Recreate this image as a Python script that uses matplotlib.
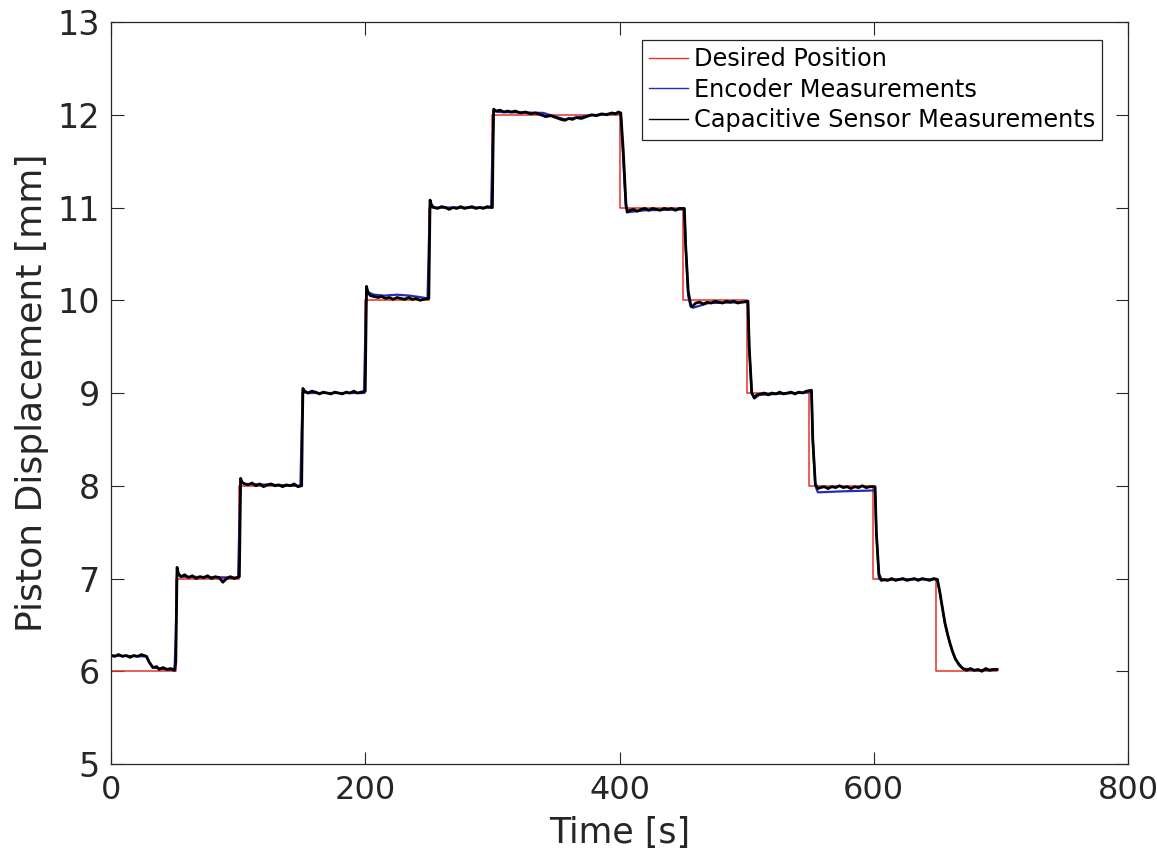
import matplotlib
matplotlib.use("Agg")
import matplotlib.pyplot as plt

# Step reference trajectory (staircase up to 12 mm and back down)
desired_time = [0, 51, 51, 101, 101, 150, 150, 200, 200, 250, 250, 300, 300,
                400, 400, 450, 450, 500, 500, 549, 549, 599, 599, 649, 649, 697]
desired_pos = [6, 6, 7, 7, 8, 8, 9, 9, 10, 10, 11, 11, 12,
               12, 11, 11, 10, 10, 9, 9, 8, 8, 7, 7, 6, 6]

# Capacitive sensor reading
cap_time = [0, 3, 6, 9, 12, 15, 18, 21, 24, 28, 30, 33, 36, 38, 41, 44, 47, 50, 51, 51.5, 52, 53, 55, 58, 61, 64, 67, 70, 73, 76, 79, 82, 85, 88, 91, 94, 97, 101,
            101.5, 102, 103, 105, 108, 111, 114, 117, 120, 123, 126, 129, 132, 135, 138, 141, 144, 147, 150,
            150.5, 151, 152, 155, 158, 161, 164, 167, 170, 173, 176, 179, 182, 185, 188, 191, 194, 197, 200,
            200.5, 201, 202, 204, 207, 210, 213, 216, 219, 222, 225, 228, 231, 234, 237, 240, 243, 246, 250,
            250.5, 251, 252, 254, 257, 260, 263, 266, 269, 272, 275, 278, 281, 284, 287, 290, 293, 296, 300,
            300.5, 301, 303, 306, 309, 312, 315, 318, 322, 326, 330, 334, 338, 342, 346, 350, 354, 357, 360, 363, 366, 370, 374, 378, 382, 386, 390, 394, 397, 399,
            401, 403, 405, 406, 408, 411, 414, 417, 420, 423, 426, 429, 432, 435, 438, 441, 444, 447, 451,
            452, 454, 456, 457, 460, 463, 466, 469, 472, 475, 478, 481, 484, 487, 490, 493, 496, 501,
            502, 504, 506, 508, 511, 514, 517, 520, 523, 526, 529, 532, 535, 538, 541, 544, 547, 551,
            552, 554, 556, 558, 561, 564, 567, 570, 573, 576, 579, 582, 585, 588, 591, 594, 597, 601,
            602, 604, 606, 608, 611, 614, 617, 620, 623, 626, 629, 632, 635, 638, 641, 644, 647, 650,
            652, 654, 656, 658, 660, 662, 664, 667, 670, 673, 676, 679, 682, 685, 688, 691, 694, 697]
cap_pos = [6.17, 6.16, 6.18, 6.16, 6.17, 6.15, 6.17, 6.16, 6.18, 6.16, 6.10, 6.04, 6.05, 6.02, 6.04, 6.02, 6.03, 6.01, 6.10, 6.60, 7.12, 7.05, 7.02, 7.04, 7.01, 7.03, 7.00, 7.02, 7.01, 7.03, 7.00, 7.02, 7.01, 6.96, 7.00, 7.02, 7.00, 7.02,
            7.60, 8.08, 8.04, 8.02, 8.01, 8.03, 8.00, 8.02, 7.99, 8.01, 8.02, 8.00, 8.01, 7.99, 8.01, 8.00, 8.02, 7.99, 8.00,
            8.60, 9.05, 9.02, 9.00, 9.02, 9.01, 8.99, 9.01, 9.00, 8.99, 9.01, 9.00, 8.99, 9.01, 9.00, 9.02, 9.00, 9.01, 9.02,
            9.60, 10.15, 10.09, 10.05, 10.04, 10.03, 10.04, 10.02, 10.03, 10.01, 10.03, 10.02, 10.01, 10.03, 10.01, 10.02, 10.00, 10.01, 10.02,
            10.60, 11.08, 11.02, 11.00, 10.99, 11.01, 11.00, 10.98, 11.00, 10.99, 11.01, 10.99, 11.00, 11.01, 10.99, 11.00, 10.99, 11.01, 11.00,
            11.60, 12.06, 12.04, 12.05, 12.03, 12.04, 12.03, 12.04, 12.02, 12.03, 12.01, 12.02, 12.00, 11.98, 11.99, 11.97, 11.95, 11.94, 11.96, 11.95, 11.97, 11.96, 11.98, 12.00, 11.99, 12.01, 12.00, 12.02, 12.01, 12.03,
            12.02, 11.60, 11.05, 10.95, 10.97, 10.98, 10.96, 10.98, 10.99, 10.97, 10.99, 10.98, 10.97, 10.99, 10.98, 10.99, 10.97, 10.99, 10.99,
            10.60, 10.10, 9.95, 9.93, 9.97, 9.98, 9.96, 9.98, 9.97, 9.99, 9.98, 9.97, 9.99, 9.98, 9.99, 9.97, 9.98, 9.99,
            9.50, 9.00, 8.95, 8.98, 8.99, 9.00, 8.98, 9.00, 8.99, 9.01, 8.99, 9.00, 9.01, 8.99, 9.01, 9.00, 9.02, 9.03,
            8.50, 8.02, 7.97, 7.98, 7.99, 7.97, 7.99, 7.98, 8.00, 7.98, 7.99, 7.97, 7.99, 7.98, 8.00, 7.98, 7.99, 7.99,
            7.50, 7.05, 6.98, 6.99, 6.98, 7.00, 6.98, 6.99, 7.00, 6.98, 6.99, 7.00, 6.98, 7.00, 6.99, 6.98, 7.00, 6.99,
            6.85, 6.68, 6.52, 6.40, 6.30, 6.21, 6.14, 6.07, 6.03, 6.01, 6.03, 6.01, 6.02, 6.00, 6.03, 6.01, 6.02, 6.02]

# Encoder reading
enc_time = [0, 28, 30, 33, 50, 51, 52, 55, 100, 101, 102, 105, 149, 150, 151, 155, 199,
            200, 201, 203, 207, 215, 225, 235, 245, 249,
            250, 251, 254, 299, 300, 301, 305, 340, 357, 375, 399,
            401, 403, 405, 407, 420, 451, 452, 454, 456, 458, 470, 501,
            502, 504, 506, 510, 551, 552, 554, 556, 558, 575, 601,
            602, 604, 606, 620, 650, 652, 656, 660, 664, 670, 680, 697]
enc_pos = [6.17, 6.16, 6.10, 6.04, 6.01, 6.40, 7.08, 7.02, 7.01, 7.60, 8.05, 8.02, 8.00, 8.60, 9.04, 9.00, 9.00,
           9.60, 10.12, 10.08, 10.06, 10.05, 10.06, 10.05, 10.03, 10.02,
           10.60, 11.06, 11.00, 11.00, 11.60, 12.04, 12.03, 12.02, 11.95, 11.99, 12.02,
           12.00, 11.50, 11.00, 10.95, 10.97, 10.98, 10.60, 10.05, 9.93, 9.92, 9.97, 9.98,
           9.50, 9.00, 8.94, 8.98, 9.01, 8.50, 8.00, 7.93, 7.93, 7.94, 7.95,
           7.50, 7.00, 6.98, 6.99, 6.99, 6.84, 6.51, 6.29, 6.13, 6.03, 6.01, 6.02]

x_ticks = [0, 200, 400, 600, 800]
y_ticks = [5, 6, 7, 8, 9, 10, 11, 12, 13]

plt.rcParams['font.family'] = ['DejaVu Sans']

fig = plt.figure(figsize=(11.57, 8.6), dpi=100)
ax = fig.add_axes([0.0959, 0.1116, 0.8791, 0.8628])

ax.plot(desired_time, desired_pos, color='#e8312c', lw=1.1, label='Desired Position')
ax.plot(enc_time, enc_pos, color='#2a2ab8', lw=1.6, label='Encoder Measurements')
ax.plot(cap_time, cap_pos, color='black', lw=2.0, label='Capacitive Sensor Measurements')

ax.set_xlim(0, 800)
ax.set_ylim(5, 13)
ax.set_xticks(x_ticks)
ax.set_yticks(y_ticks)
ax.tick_params(direction='in', length=9, width=0.8, top=True, right=True,
               colors='#262626', pad=8)
ax.tick_params(axis='y', labelsize=24)
ax.tick_params(axis='x', labelsize=23, pad=8)
for sp in ax.spines.values():
    sp.set_color('#262626')
    sp.set_linewidth(0.9)

ax.set_xlabel('Time [s]', fontsize=25, color='#262626', labelpad=7)
ax.set_ylabel('Piston Displacement [mm]', fontsize=26, color='#262626', labelpad=6)

leg = ax.legend(loc='upper right', bbox_to_anchor=(0.9745, 0.976), borderaxespad=0,
                fontsize=17.3, handlelength=1.6, handletextpad=0.25, borderpad=0.3,
                labelspacing=0.28, fancybox=False, framealpha=1)
leg.get_frame().set_edgecolor('#262626')
leg.get_frame().set_linewidth(0.9)
for line in leg.get_lines():
    line.set_linewidth(1.0)

fig.savefig('out.png', dpi=100)
